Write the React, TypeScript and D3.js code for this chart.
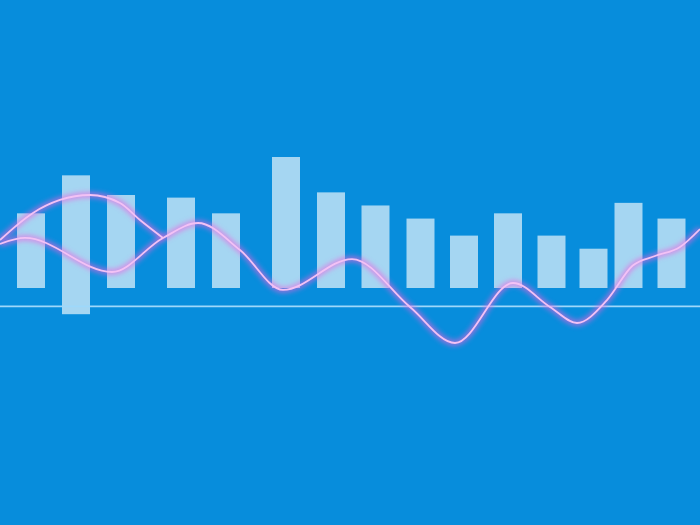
import { useEffect, useRef } from 'react';
import * as d3 from 'd3';

// bar positions (t) and ranges
const barT = [6.2, 15.2, 24.2, 36.2, 45.2, 57.2, 66.2, 75.1, 84.1, 92.8, 101.6, 110.3, 118.7, 125.7, 134.3];
const barHigh = [57, 86, 71, 69, 57, 100, 73, 63, 53, 40, 57, 40, 30, 65, 53];
const barLow = [0, -20, 0, 0, 0, 0, 0, 0, 0, 0, 0, 0, 0, 0, 0];

// wave series
const waveT = [0, 5, 22.4, 32.6, 39.6, 48, 56.6, 70.4, 82, 91, 102.6, 110, 115.4, 121.4, 126.5, 131, 136, 140];
const waveV = [33.6, 38.2, 12.2, 38.2, 49.6, 29, -1.5, 22.1, -14.5, -42, 3.8, -14.5, -26.7, -9.2, 17, 24.4, 31.3, 45];
const upperT = [0, 6.6, 12, 18, 24, 28, 32.6];
const upperV = [36.6, 57.3, 67.2, 71, 64.9, 51.9, 38.2];

const baseValue = -14;

const App = () => {
  const ref = useRef<SVGSVGElement>(null);

  useEffect(() => {
    if (!ref.current) return;
    const width = 700;
    const height = 525;
    const svg = d3.select(ref.current);
    svg.selectAll('*').remove();
    svg.attr('width', width).attr('height', height);

    const x = d3.scaleLinear().domain([0, 140]).range([0, width]);
    const y = d3.scaleLinear().domain([0, 100]).range([288, 157]);
    const barW = x(5.6) - x(0);

    const defs = svg.append('defs');
    const glow = defs.append('filter').attr('id', 'glow')
      .attr('x', '-10%').attr('y', '-50%').attr('width', '120%').attr('height', '200%');
    glow.append('feGaussianBlur').attr('stdDeviation', 2.6);

    svg.append('rect').attr('width', width).attr('height', height).attr('fill', '#078ddc');

    // bars
    svg.append('g')
      .selectAll('rect')
      .data(barT)
      .join('rect')
      .attr('x', (d) => x(d) - barW / 2)
      .attr('width', barW)
      .attr('y', (_, i) => y(barHigh[i]))
      .attr('height', (_, i) => y(barLow[i]) - y(barHigh[i]))
      .attr('fill', '#ffffff')
      .attr('fill-opacity', 0.64);

    // baseline
    svg.append('line')
      .attr('x1', 0).attr('x2', width)
      .attr('y1', y(baseValue)).attr('y2', y(baseValue))
      .attr('stroke', '#9ed8fa')
      .attr('stroke-width', 1.8);

    const line = d3.line<[number, number]>()
      .x((d) => x(d[0]))
      .y((d) => y(d[1]))
      .curve(d3.curveMonotoneX);

    const series = [
      waveT.map((t, i) => [t, waveV[i]] as [number, number]),
      upperT.map((t, i) => [t, upperV[i]] as [number, number]),
    ];

    const g = svg.append('g');
    series.forEach((pts) => {
      g.append('path')
        .attr('d', line(pts))
        .attr('fill', 'none')
        .attr('stroke', '#f060e0')
        .attr('stroke-width', 6)
        .attr('stroke-opacity', 0.6)
        .attr('filter', 'url(#glow)');
    });
    series.forEach((pts) => {
      g.append('path')
        .attr('d', line(pts))
        .attr('fill', 'none')
        .attr('stroke', '#f2c2f5')
        .attr('stroke-width', 1.8);
    });
  }, []);

  return (
    <div style={{ position: 'fixed', left: 0, top: 0 }}>
      <svg ref={ref} style={{ display: 'block' }} />
    </div>
  );
};

export default App;
